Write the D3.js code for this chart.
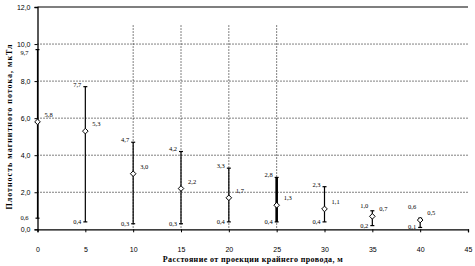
<!DOCTYPE html>
<html>
<head>
<meta charset="utf-8">
<script src="https://cdn.jsdelivr.net/npm/d3@7"></script>
<style>
	body { margin:0 ; background:#fff ; }
	svg { display:block ; font-family:"Liberation Serif", "DejaVu Serif", serif ; }
	.tick text { font-size:7px ; }
</style>
</head>
<body>
<svg id="chart" width="475" height="266"></svg>
<script>

// distances from the outer wire, m
const distances = [ 0, 5, 10, 15, 20, 25, 30, 35, 40 ] ;
// mean, max and min flux density, uT
const means = [ 5.8, 5.3, 3.0, 2.2, 1.7, 1.3, 1.1, 0.7, 0.5 ] ;
const maxs  = [ 9.7, 7.7, 4.7, 4.2, 3.3, 2.8, 2.3, 1.0, 0.6 ] ;
const mins  = [ 0.6, 0.4, 0.3, 0.3, 0.4, 0.4, 0.4, 0.2, 0.1 ] ;

const xTicks = [ 0, 5, 10, 15, 20, 25, 30, 35, 40, 45 ] ;
const yTicks = [ 0, 2, 4, 6, 8, 10, 12 ] ;
const vGrid = [ 10, 15, 20, 25 ] ;

const xTitle = "Расстояние от проекции крайнего провода, м" ;
const yTitle = "Плотность магнитного потока, мкТл" ;

const svg = d3.select( "#chart" ) ;
const margin = { left:37.5, right:7, top:7, bottom:36.7 } ;
const W = 475, H = 266 ;

const x = d3.scaleLinear().domain( [0, 45] ).range( [margin.left, W - margin.right] ) ;
const y = d3.scaleLinear().domain( [0, 12] ).range( [H - margin.bottom, margin.top] ) ;

const fmt = function(v) { return d3.format( ".1f" )(v).replace( ".", "," ) ; } ;

// horizontal dotted grid
svg.append( "g" )
	.selectAll( "line" )
	.data( yTicks.filter( v => v > 0 && v < 12 ) )
	.enter().append( "line" )
		.attr( "x1", x(0) ).attr( "x2", x(45) )
		.attr( "y1", d => y(d) ).attr( "y2", d => y(d) )
		.attr( "stroke", "#000" )
		.attr( "stroke-width", 1 )
		.attr( "stroke-dasharray", "1,2" )
	;

// vertical dotted grid
svg.append( "g" )
	.selectAll( "line" )
	.data( vGrid )
	.enter().append( "line" )
		.attr( "x1", d => x(d) ).attr( "x2", d => x(d) )
		.attr( "y1", y(11) ).attr( "y2", y(0) )
		.attr( "stroke", "#000" )
		.attr( "stroke-width", 1 )
		.attr( "stroke-dasharray", "1,2" )
	;

// top frame line
svg.append( "line" )
	.attr( "x1", x(0) ).attr( "x2", x(45) )
	.attr( "y1", y(12) ).attr( "y2", y(12) )
	.attr( "stroke", "#000" ).attr( "stroke-width", 1.2 ) ;

// axes
const xAxis = svg.append( "g" )
	.attr( "transform", "translate(0," + y(0) + ")" )
	.call( d3.axisBottom( x ).tickValues( xTicks ).tickSize( 3 ).tickPadding( 15 ).tickFormat( d3.format( "d" ) ) ) ;
const yAxis = svg.append( "g" )
	.attr( "transform", "translate(" + x(0) + ",0)" )
	.call( d3.axisLeft( y ).tickValues( yTicks ).tickSize( 3 ).tickPadding( 4 ).tickFormat( fmt ) ) ;
xAxis.select( ".domain" ).attr( "stroke-width", 1.3 ) ;
yAxis.select( ".domain" ).attr( "stroke-width", 1.3 ) ;

// error bars
const bars = svg.append( "g" ) ;
distances.forEach( function(d, i) {
	const sw = d === 25 ? 2.6 : 1.2 ;
	bars.append( "line" )
		.attr( "x1", x(d) ).attr( "x2", x(d) )
		.attr( "y1", y(maxs[i]) ).attr( "y2", y(mins[i]) )
		.attr( "stroke", "#000" ).attr( "stroke-width", sw ) ;
	[ maxs[i], mins[i] ].forEach( function(v) {
		bars.append( "line" )
			.attr( "x1", x(d) - 2 ).attr( "x2", x(d) + 2 )
			.attr( "y1", y(v) ).attr( "y2", y(v) )
			.attr( "stroke", "#000" ).attr( "stroke-width", 1.2 ) ;
	}) ;
}) ;

// mean markers (hollow diamonds)
svg.append( "g" )
	.selectAll( "path" )
	.data( distances )
	.enter().append( "path" )
		.attr( "transform", (d, i) => "translate(" + x(d) + "," + y(means[i]) + ")" )
		.attr( "d", d3.symbol( d3.symbolDiamond2, 20 ) )
		.attr( "fill", "#fff" )
		.attr( "stroke", "#000" )
		.attr( "stroke-width", 1 )
	;

// value labels - pushed up off the axis where the bar is short
const lab = svg.append( "g" ).style( "font-size", "6.5px" ) ;
distances.forEach( function(d, i) {
	const dx = d === 0 ? 9 : 4 ;
	const yMin = y(mins[i]) ;
	const yTop = Math.min( y(maxs[i]) - 2, yMin - 20 ) ;
	const yMean = Math.min( y(means[i]) - 7, yMin - 14 ) ;
	lab.append( "text" )
		.attr( "x", x(d) + 7 ).attr( "y", yMean + 2 )
		.text( fmt( means[i] ) ) ;
	lab.append( "text" )
		.attr( "x", x(d) - dx ).attr( "y", (d === 0 ? y(maxs[i]) + 3 : yTop) + 2 )
		.attr( "text-anchor", "end" )
		.text( fmt( maxs[i] ) ) ;
	lab.append( "text" )
		.attr( "x", x(d) - dx ).attr( "y", yMin + 2 )
		.attr( "text-anchor", "end" )
		.text( fmt( mins[i] ) ) ;
}) ;

// axis titles
svg.append( "text" )
	.attr( "x", (x(0) + x(45)) / 2 ).attr( "y", 262 )
	.attr( "text-anchor", "middle" )
	.attr( "textLength", 180 ).attr( "lengthAdjust", "spacing" )
	.style( "font-size", "8px" ).style( "font-weight", "bold" )
	.text( xTitle ) ;
svg.append( "text" )
	.attr( "transform", "translate(12,127) rotate(-90)" )
	.attr( "text-anchor", "middle" )
	.attr( "textLength", 165 ).attr( "lengthAdjust", "spacing" )
	.style( "font-size", "8px" ).style( "font-weight", "bold" )
	.text( yTitle ) ;

</script>
</body>
</html>
